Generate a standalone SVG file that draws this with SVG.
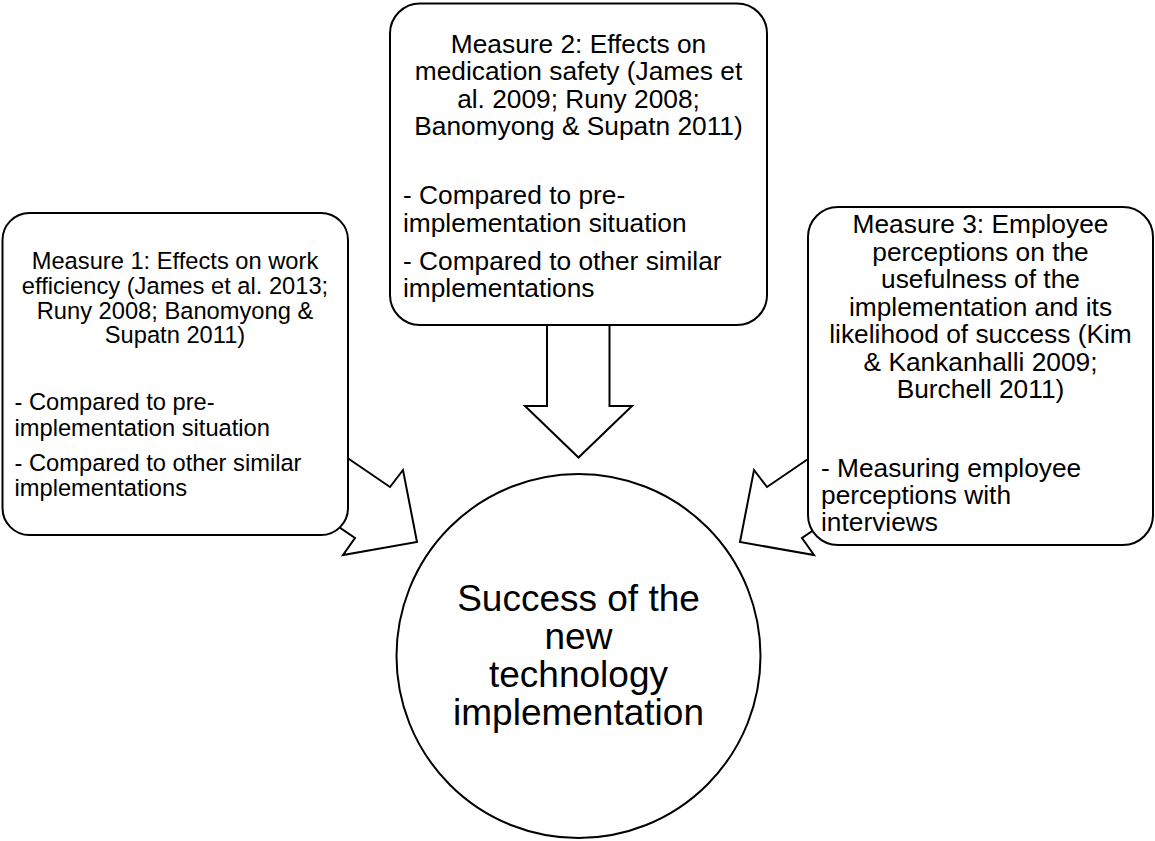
<svg xmlns="http://www.w3.org/2000/svg" width="1155" height="841" viewBox="0 0 1155 841">
<style>
.box{fill:#fff;stroke:#000;stroke-width:2}
.arr{fill:#fff;stroke:#000;stroke-width:2;stroke-linejoin:miter}
text{font-family:"Liberation Sans",Arial,sans-serif;fill:#000}
.s1{font-size:23.7px}
.s2{font-size:26.3px}
.big{font-size:37px}
.c{text-anchor:middle}
</style>
<rect width="1155" height="841" fill="#fff"/>
<g id="connectors">
<polygon class="arr" points="547,300 547,406 525,406 578.5,457.5 632,406 609.5,406 609.5,300"/>
<polygon class="arr" points="324,442 390,487 403,470 417,542 343,555 355,538 289,493"/>
<polygon class="arr" points="833,442 767,487 754,470 740,542 814,555 802,538 868,493"/>
</g>
<g id="measure1">
<rect class="box" x="2.5" y="213" width="345.5" height="322" rx="27" ry="27"/>
<text class="s1 c" x="175" y="268.5">Measure 1: Effects on work</text>
<text class="s1 c" x="175" y="293.5">efficiency (James et al. 2013;</text>
<text class="s1 c" x="175" y="318.5">Runy 2008; Banomyong &amp;</text>
<text class="s1 c" x="175" y="343">Supatn 2011)</text>
<text class="s1" x="14.5" y="410">- Compared to pre-</text>
<text class="s1" x="14.5" y="435.5">implementation situation</text>
<text class="s1" x="14.5" y="470.5">- Compared to other similar</text>
<text class="s1" x="14.5" y="495.5">implementations</text>
</g>
<g id="measure2">
<rect class="box" x="390" y="3.5" width="377" height="321.5" rx="30" ry="30"/>
<text class="s2 c" x="578.5" y="52.5">Measure 2: Effects on</text>
<text class="s2 c" x="578.5" y="80">medication safety (James et</text>
<text class="s2 c" x="578.5" y="107.5">al. 2009; Runy 2008;</text>
<text class="s2 c" x="578.5" y="135">Banomyong &amp; Supatn 2011)</text>
<text class="s2" x="403" y="204">- Compared to pre-</text>
<text class="s2" x="403" y="231.5">implementation situation</text>
<text class="s2" x="403" y="270">- Compared to other similar</text>
<text class="s2" x="403" y="297">implementations</text>
</g>
<g id="measure3">
<rect class="box" x="808" y="207" width="345" height="338" rx="30" ry="30"/>
<text class="s2 c" x="980.5" y="233">Measure 3: Employee</text>
<text class="s2 c" x="980.5" y="260.5">perceptions on the</text>
<text class="s2 c" x="980.5" y="288">usefulness of the</text>
<text class="s2 c" x="980.5" y="315.5">implementation and its</text>
<text class="s2 c" x="980.5" y="343">likelihood of success (Kim</text>
<text class="s2 c" x="980.5" y="370.5">&amp; Kankanhalli 2009;</text>
<text class="s2 c" x="980.5" y="398">Burchell 2011)</text>
<text class="s2" x="821" y="476.5">- Measuring employee</text>
<text class="s2" x="821" y="503.5">perceptions with</text>
<text class="s2" x="821" y="530.5">interviews</text>
</g>
<g id="success">
<circle cx="578.5" cy="656" r="182" fill="#fff" stroke="#000" stroke-width="2"/>
<text class="big c" x="578.5" y="610.5">Success of the</text>
<text class="big c" x="578.5" y="648.5">new</text>
<text class="big c" x="578.5" y="687">technology</text>
<text class="big c" x="578.5" y="725">implementation</text>
</g>
</svg>
